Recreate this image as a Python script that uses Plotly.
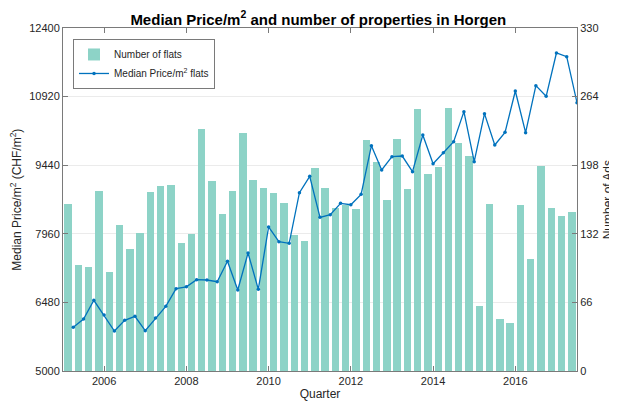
import plotly.graph_objects as go

# Quarters Q1 2005 .. Q2 2017
years = [2005 + i // 4 for i in range(50)]
quarters = [i % 4 + 1 for i in range(50)]

n_flats = [161, 102, 100, 173, 95, 140, 117, 133, 172, 178,
           179, 123, 132, 233, 183, 151, 173, 229, 184, 176,
           171, 162, 131, 125, 195, 176, 157, 160, 156, 222,
           201, 165, 223, 175, 252, 190, 196, 253, 219, 207,
           63, 161, 50, 46, 160, 108, 197, 157, 149, 153]

median_price = [5942, 6122, 6525, 6208, 5863, 6093, 6179, 5870, 6143, 6395,
                6776, 6815, 6970, 6963, 6927, 7366, 6748, 7546, 6762, 8107,
                7790, 7754, 8847, 9200, 8315, 8372, 8617, 8588, 8811, 9861,
                9336, 9624, 9638, 9300, 10091, 9473, 9710, 9948, 10595, 9516,
                10552, 9876, 10149, 11041, 10142, 11156, 10926, 11861, 11781, 10789]

left_ticks = [5000, 6480, 7960, 9440, 10920, 12400]
right_ticks = [0, 66, 132, 198, 264, 330]

# bars sit mid-quarter, line points at quarter end
x_bar = [y + (q - 0.5) / 4 for y, q in zip(years, quarters)]
x_line = [y + q / 4 for y, q in zip(years, quarters)]

axis_col = '#7a7a7a'
font_fam = 'Liberation Sans, Arial, sans-serif'

fig = go.Figure()
fig.add_trace(go.Bar(x=x_bar, y=n_flats, name='Number of flats', width=0.18,
                     marker=dict(color='#8dd3c7', line=dict(width=0)), yaxis='y'))
fig.add_trace(go.Scatter(x=x_line, y=median_price, name='Median Price/m<sup>2</sup> flats',
                         mode='lines+markers', line=dict(color='#0072bd', width=1.3),
                         marker=dict(size=3.5, color='#0072bd'), yaxis='y2'))

# page body adds an 8px offset, margins compensate for it
fig.update_layout(
    width=617, height=409,
    paper_bgcolor='white', plot_bgcolor='white',
    margin=dict(l=55, r=48, t=20, b=46, autoexpand=False),
    font=dict(family=font_fam, size=11, color='#262626'),
    title=dict(text='<b>Median Price/m<sup>2</sup> and number of properties in Horgen</b>',
               x=0.503, xanchor='center', y=0.972, yanchor='middle',
               font=dict(size=15, color='black')),
    showlegend=True,
    legend=dict(x=0.0195, y=0.968, xanchor='left', yanchor='top',
                bgcolor='white', bordercolor=axis_col, borderwidth=1,
                font=dict(size=10, color='#262626'), tracegroupgap=0,
                itemwidth=30),
    bargap=0,
    xaxis=dict(range=[2005, 2017.5], tick0=2006, dtick=2, ticks='inside', ticklen=5,
               tickcolor=axis_col, showline=True, linecolor=axis_col, linewidth=1,
               mirror='ticks', showgrid=False, zeroline=False, automargin=False,
               title=dict(text='Quarter', standoff=2, font=dict(size=12))),
    yaxis=dict(range=[0, 330], tickvals=right_ticks, ticktext=[str(v) for v in right_ticks],
               side='right', ticks='inside', automargin=False,
               ticklen=5, tickcolor=axis_col, showline=True, linecolor=axis_col,
               showgrid=True, gridcolor='#ebebeb', zeroline=False),
    yaxis2=dict(range=[5000, 12400], tickvals=left_ticks, ticktext=[str(v) for v in left_ticks],
                side='left', overlaying='y', automargin=False,
                ticks='inside', ticklen=5, tickcolor=axis_col, showline=True,
                linecolor=axis_col, showgrid=False, zeroline=False),
    annotations=[
        dict(text='Median Price/m<sup>2</sup> (CHF/m<sup>2</sup>)', textangle=-90,
             xref='paper', yref='paper', x=-0.093, y=0.5, xanchor='center', yanchor='middle',
             showarrow=False, font=dict(size=12, color='#262626')),
        dict(text='Number of Ads', textangle=-90,
             xref='paper', yref='paper', x=1.06, y=0.5, xanchor='center', yanchor='middle',
             showarrow=False, font=dict(size=12, color='#262626')),
    ],
)

fig.write_html("out.html")
